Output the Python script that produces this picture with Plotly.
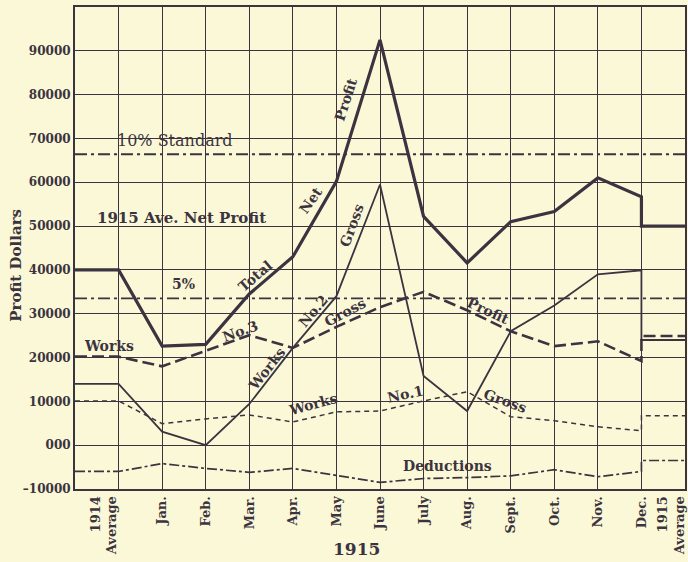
import plotly.graph_objects as go

# x positions: -1..0 = 1914 average, 1..12 = months 1915, 12..13 = 1915 average
months = ["Jan.", "Feb.", "Mar.", "Apr.", "May", "June", "July",
          "Aug.", "Sept.", "Oct.", "Nov.", "Dec."]

net_profit_1914 = 40000
net_profit = [22600, 23000, 34500, 43000, 60200, 92500, 52200,
              41600, 51000, 53300, 61000, 56700]
net_profit_1915 = 50000

works2_gross_1914 = 14000
works2_gross = [3100, 0, 9400, 22200, 34000, 59500, 15800,
                7800, 26000, 31900, 39000, 39900]
works2_gross_1915 = 24000

works3_profit_1914 = 20200
works3_profit = [18000, 21600, 25100, 22200, 27000, 31500, 35000,
                 30800, 26000, 22600, 23700, 19200]
works3_profit_1915 = 24900

works1_gross_1914 = 10100
works1_gross = [4900, 6000, 6900, 5300, 7600, 7800, 10100,
                12200, 6500, 5600, 4200, 3300]
works1_gross_1915 = 6700

deductions_1914 = -6000
deductions = [-4200, -5300, -6200, -5300, -6900, -8500, -7600,
              -7400, -7000, -5600, -7200, -6000]
deductions_1915 = -3500

standard_10 = 66400
standard_5 = 33500

INK = "#3b3440"
BG = "#fbf8d7"
SERIF = "DejaVu Serif, Liberation Serif, serif"

def series_x():
    return [-1, 0] + list(range(1, 13)) + [12, 13]

def series_y(avg14, vals, avg15):
    return [avg14, avg14] + vals + [avg15, avg15]

fig = go.Figure()

fig.add_scatter(x=series_x(), y=series_y(net_profit_1914, net_profit, net_profit_1915),
                mode="lines", line=dict(color=INK, width=3.2))
fig.add_scatter(x=series_x(), y=series_y(works2_gross_1914, works2_gross, works2_gross_1915),
                mode="lines", line=dict(color=INK, width=1.8))
fig.add_scatter(x=series_x(), y=series_y(works3_profit_1914, works3_profit, works3_profit_1915),
                mode="lines", line=dict(color=INK, width=2.6, dash="12px,5px"))
fig.add_scatter(x=series_x(), y=series_y(works1_gross_1914, works1_gross, works1_gross_1915),
                mode="lines", line=dict(color=INK, width=1.5, dash="5px,4px"))
fig.add_scatter(x=series_x(), y=series_y(deductions_1914, deductions, deductions_1915),
                mode="lines", line=dict(color=INK, width=1.7, dash="10px,3px,3px,3px"))

for level in [standard_10, standard_5]:
    fig.add_scatter(x=[-1, 13], y=[level, level], mode="lines",
                    line=dict(color=INK, width=1.8, dash="12px,4px,3px,4px"))

labels = [
    ("10% Standard", 1.3, 69500, 0, 16, False),
    ("1915 Ave. Net Profit", 1.45, 51900, 0, 15, True),
    ("5%", 1.49, 36700, 0, 14, True),
    ("Total", 3.14, 38500, -40, 14, True),
    ("Net", 4.41, 56000, -55, 14, True),
    ("Profit", 5.21, 78800, -72, 14, True),
    ("Gross", 5.35, 50300, -70, 14, True),
    ("No.2", 4.47, 30600, -50, 14, True),
    ("Works", 3.40, 17400, -52, 14, True),
    ("Gross", 5.21, 30300, -28, 14, True),
    ("Profit", 8.49, 30600, 25, 14, True),
    ("No.3", 2.80, 26000, -20, 14, True),
    ("Works", -0.23, 22600, 0, 14, True),
    ("Works", 4.47, 9400, -15, 14, True),
    ("No.1", 6.59, 11700, -12, 14, True),
    ("Gross", 8.88, 10100, 20, 14, True),
    ("Deductions", 7.55, -4700, 0, 14, True),
]
for text, x, y, ang, size, bold in labels:
    fig.add_annotation(x=x, y=y, text=f"<b>{text}</b>" if bold else text,
                       textangle=ang, showarrow=False,
                       font=dict(family=SERIF, size=size, color=INK))

fig.add_annotation(x=5.45, y=0, xref="x", yref="paper", yanchor="top", yshift=-48,
                   text="<b>1915</b>", showarrow=False,
                   font=dict(family=SERIF, size=17, color=INK))
fig.add_annotation(x=-0.115, y=0.465, xref="paper", yref="paper", textangle=-90,
                   text="<b>Profit Dollars</b>", showarrow=False,
                   font=dict(family=SERIF, size=15, color=INK))

xticks = [-0.34] + list(range(1, 13)) + [12.68]
xtext = ["<b>1914<br>Average</b>"] + [f"<b>{m}</b>" for m in months] + ["<b>1915<br>Average</b>"]
yticks = list(range(-10000, 100000, 10000))
ytext = [("<b>–10000</b>" if v < 0 else "<b>000</b>" if v == 0 else f"<b>{v}</b>") for v in yticks]

fig.update_xaxes(range=[-1, 13], tickmode="array", tickvals=xticks, ticktext=xtext,
                 tickangle=-90, showgrid=False, zeroline=False, ticklabeloverflow="allow",
                 automargin=False,
                 showline=True, mirror=True, linecolor=INK, linewidth=2,
                 ticks="", tickfont=dict(family=SERIF, size=13, color=INK),
                 minor=dict(dtick=1, tick0=0, showgrid=True, gridcolor=INK, gridwidth=1.4))
fig.update_yaxes(range=[-10000, 100000], tickmode="array", tickvals=yticks, ticktext=ytext,
                 automargin=False,
                 showgrid=True, gridcolor=INK, gridwidth=1.4, zeroline=False,
                 showline=True, mirror=True, linecolor=INK, linewidth=2,
                 ticks="", tickfont=dict(family=SERIF, size=12, color=INK))

fig.update_layout(width=688, height=562, showlegend=False,
                  paper_bgcolor=BG, plot_bgcolor=BG,
                  margin=dict(l=75, r=3, t=7, b=73))

fig.write_html("out.html", config={"displayModeBar": False},
               post_script="document.body.style.margin='0';")
